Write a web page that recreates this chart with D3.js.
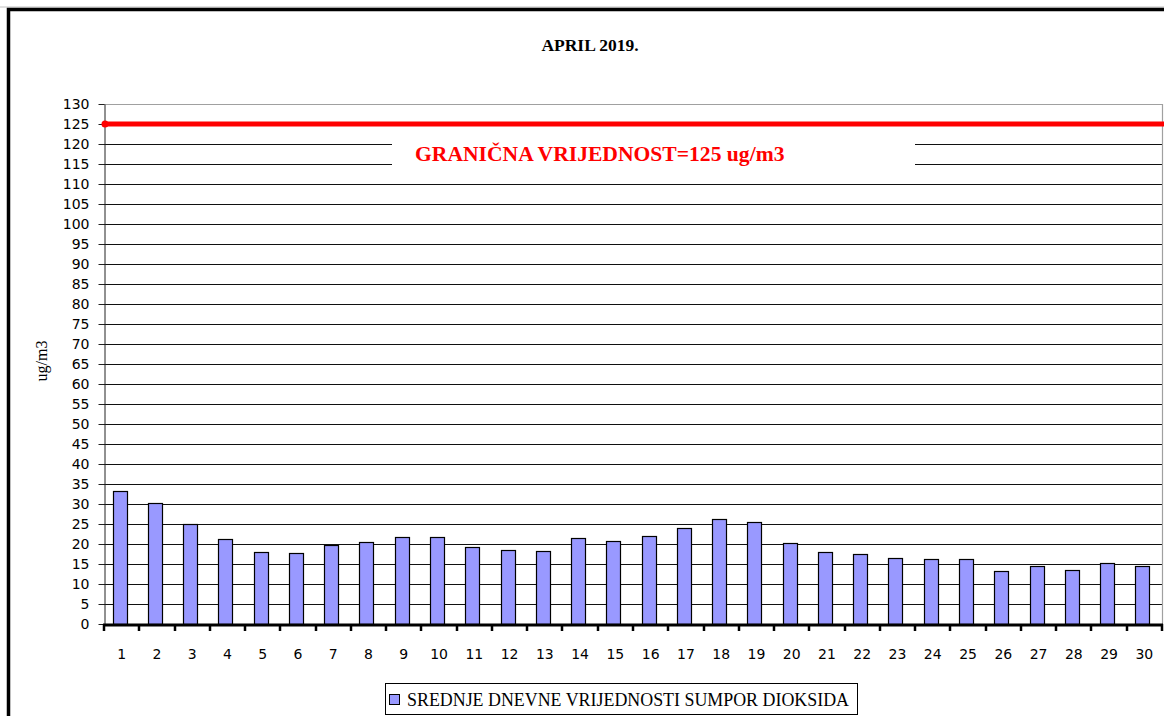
<!DOCTYPE html>
<html>
<head>
<meta charset="utf-8">
<script src="https://cdn.jsdelivr.net/npm/d3@7"></script>
<style>
  body { margin: 0; background: #fff; }
  svg { display: block; }
</style>
</head>
<body>
<div id="chart"></div>
<script>
// daily SO2 means, april 2019
const days = ["1","2","3","4","5","6","7","8","9","10","11","12","13","14","15",
              "16","17","18","19","20","21","22","23","24","25","26","27","28","29","30"];
const so2 = [33.3, 30.3, 24.9, 21.3, 18.1, 17.8, 19.8, 20.5, 21.7, 21.7,
             19.2, 18.6, 18.3, 21.6, 20.7, 21.9, 24.1, 26.2, 25.6, 20.2,
             18.1, 17.4, 16.5, 16.2, 16.2, 13.2, 14.4, 13.4, 15.3, 14.4];
const yTicks = [0,5,10,15,20,25,30,35,40,45,50,55,60,65,70,75,80,85,90,95,100,105,110,115,120,125,130];
const limitValue = 125;
const limitLabel = "GRANIČNA VRIJEDNOST=125 ug/m3";
const title = "APRIL 2019.";
const yLabel = "ug/m3";
const legendLabel = "SREDNJE DNEVNE VRIJEDNOSTI SUMPOR DIOKSIDA";

const W = 1164, H = 716;
const plot = { left: 104, right: 1162, top: 104, bottom: 624 };
const serif = "'Liberation Serif', 'Times New Roman', serif";
const sans = "'DejaVu Sans', Verdana, sans-serif";

const svg = d3.select("#chart").append("svg")
    .attr("width", W).attr("height", H);

// outer frame (runs off the right/bottom edge)
svg.append("line").attr("x1", 0).attr("x2", W).attr("y1", 7).attr("y2", 7)
    .attr("stroke", "#c0c0c0").attr("stroke-width", 1);
svg.append("rect")
    .attr("x", 8.5).attr("y", 9.5).attr("width", W + 20).attr("height", H + 20)
    .attr("fill", "#fff").attr("stroke", "#000").attr("stroke-width", 3.5);

const x = d3.scaleBand().domain(days)
    .range([plot.left, plot.right])
    .paddingInner(0.6).paddingOuter(0.3);
const y = d3.scaleLinear().domain([0, 130]).range([plot.bottom, plot.top]);

// gridlines
svg.append("g").selectAll("line")
    .data(yTicks.filter(d => d > 0 && d < 130))
    .join("line")
    .attr("x1", plot.left).attr("x2", plot.right)
    .attr("y1", d => Math.round(y(d)) + 0.5).attr("y2", d => Math.round(y(d)) + 0.5)
    .attr("stroke", "#111").attr("stroke-width", 1);

// plot border top/right (grey)
svg.append("path")
    .attr("d", `M${plot.left},${plot.top + 0.5}H${plot.right + 0.5}V${plot.bottom}`)
    .attr("fill", "none").attr("stroke", "#a0a0a0").attr("stroke-width", 1.2);

// white box behind the limit label
svg.append("rect")
    .attr("x", 392).attr("y", 131).attr("width", 523).attr("height", 44)
    .attr("fill", "#fff");

// y axis
const yAxis = svg.append("g")
    .attr("transform", `translate(${plot.left + 0.5},0)`)
    .call(d3.axisLeft(y).tickValues(yTicks).tickSize(6).tickPadding(9).tickSizeOuter(0));
yAxis.select(".domain").attr("stroke", "#222");
yAxis.selectAll(".tick line").attr("stroke", "#222");
yAxis.selectAll("text")
    .attr("font-family", sans)
    .attr("font-size", 14).attr("fill", "#000");

// bars (excel draws them a hair left of the band centre)
svg.append("g").selectAll("rect")
    .data(so2)
    .join("rect")
    .attr("x", (d, i) => Math.round(x(days[i])) - 1.5)
    .attr("y", d => Math.round(y(d)) + 0.5)
    .attr("width", Math.round(x.bandwidth()))
    .attr("height", d => Math.round(y(0)) - Math.round(y(d)))
    .attr("fill", "#9999ff")
    .attr("stroke", "#000").attr("stroke-width", 1.2);

// limit line
svg.append("line")
    .attr("x1", plot.left).attr("x2", W + 5)
    .attr("y1", y(limitValue)).attr("y2", y(limitValue))
    .attr("stroke", "#ff0000").attr("stroke-width", 5);
svg.append("circle")
    .attr("cx", plot.left + 1).attr("cy", y(limitValue)).attr("r", 3.5)
    .attr("fill", "#ff0000");

svg.append("text")
    .attr("x", 415).attr("y", 161)
    .attr("font-family", serif)
    .attr("font-weight", "bold").attr("font-size", 21.6)
    .attr("fill", "#ff0000")
    .text(limitLabel);

// x axis: thick baseline, ticks on band boundaries
const xAxis = svg.append("g")
    .attr("transform", `translate(0,${plot.bottom})`)
    .call(d3.axisBottom(x).tickSize(0).tickPadding(25));
xAxis.select(".domain").remove();
xAxis.selectAll("text")
    .attr("font-family", sans)
    .attr("font-size", 14).attr("fill", "#000");

const bounds = days.map(d => x(d) - x.step() * x.paddingInner() / 2).concat([plot.right]);
svg.append("line")
    .attr("x1", plot.left - 1).attr("x2", plot.right + 1)
    .attr("y1", plot.bottom + 1).attr("y2", plot.bottom + 1)
    .attr("stroke", "#000").attr("stroke-width", 3);
svg.append("g").selectAll("line")
    .data(bounds)
    .join("line")
    .attr("x1", d => Math.round(d)).attr("x2", d => Math.round(d))
    .attr("y1", plot.bottom).attr("y2", plot.bottom + 7)
    .attr("stroke", "#000").attr("stroke-width", 2.5);

// title
svg.append("text")
    .attr("x", 590).attr("y", 51)
    .attr("text-anchor", "middle")
    .attr("font-family", serif)
    .attr("font-weight", "bold").attr("font-size", 17.5)
    .text(title);

// y label
svg.append("text")
    .attr("transform", "translate(47,361) rotate(-90)")
    .attr("text-anchor", "middle")
    .attr("font-family", serif)
    .attr("font-size", 16)
    .text(yLabel);

// legend
const lg = svg.append("g");
lg.append("rect")
    .attr("x", 385.5).attr("y", 683.5).attr("width", 472).attr("height", 31)
    .attr("fill", "#fff").attr("stroke", "#000").attr("stroke-width", 1);
lg.append("rect")
    .attr("x", 389.5).attr("y", 694.5).attr("width", 10).attr("height", 10)
    .attr("fill", "#9999ff").attr("stroke", "#000").attr("stroke-width", 1);
lg.append("text")
    .attr("x", 407).attr("y", 706)
    .attr("font-family", serif)
    .attr("font-size", 17.9)
    .text(legendLabel);
</script>
</body>
</html>
